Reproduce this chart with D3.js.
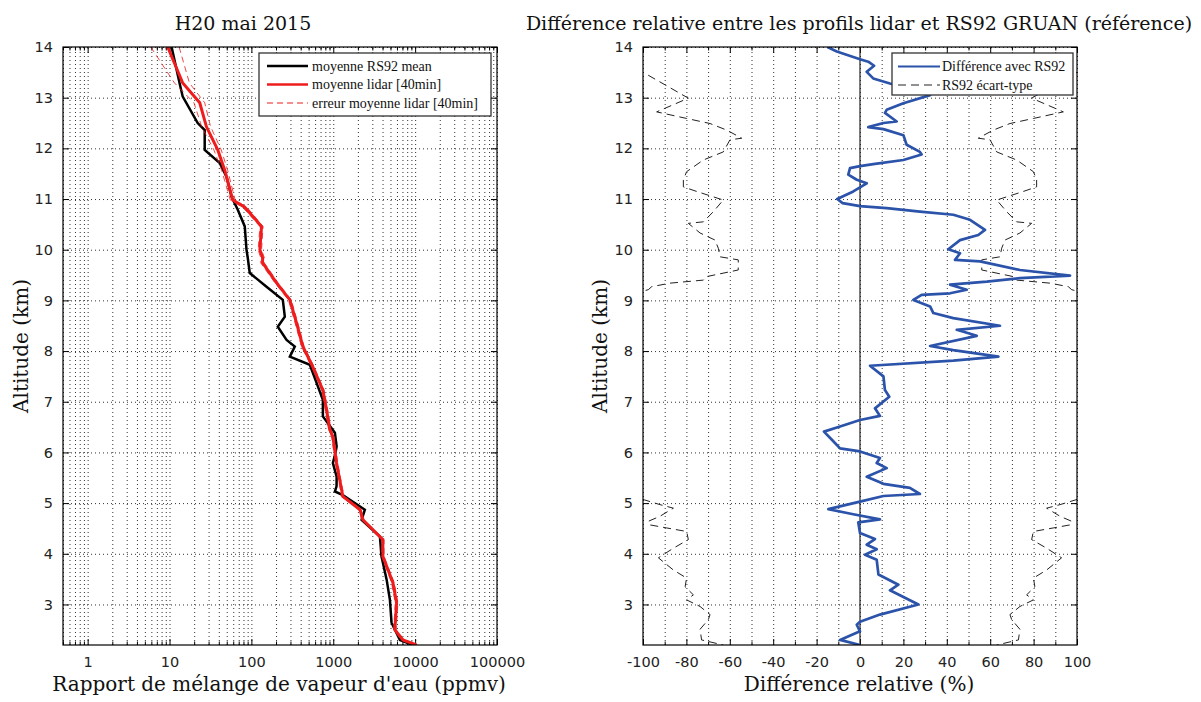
<!DOCTYPE html>
<html lang="fr">
<head>
<meta charset="utf-8">
<title>H20 mai 2015</title>
<script src="https://cdn.jsdelivr.net/npm/d3@7"></script>
<style>
  body { margin: 0; background: #fff; }
  .tick text { font-family: "DejaVu Sans", sans-serif; font-size: 14.5px; fill: #222; }
  .grid line { stroke: #333; stroke-width: 1; stroke-dasharray: 1,3; }
  .grid path, .ax path { display: none; }
  .ax line { stroke: #000; }
  .lbl { font-family: "DejaVu Serif", serif; fill: #111; }
  .leg { font-family: "Liberation Serif", serif; font-size: 14px; fill: #111; }
</style>
</head>
<body>
<script>
// ---- data ----
// altitude (km) / water vapour mixing ratio (ppmv)
var rsAlt  = [14.0, 13.28, 13.02, 12.5, 12.36, 11.97, 11.71, 11.44, 11.05, 10.79, 10.46, 10.0, 9.84, 9.54, 9.27, 9.01, 8.68, 8.48, 8.22, 8.09, 7.89, 7.73, 7.57, 7.04, 6.71, 6.39, 6.12, 5.95, 5.79, 5.52, 5.33, 5.23, 5.16, 4.87, 4.67, 4.34, 3.95, 3.49, 3.09, 2.64, 2.3, 2.2];
var rsMean = [10.6, 13.3, 14.5, 22.1, 26.9, 26.9, 41.1, 49.6, 57.1, 68.2, 83.0, 87.1, 90.3, 95.5, 153, 242, 256, 210, 269, 339, 295, 517, 563, 747, 747, 1047, 1100, 1050, 989, 1100, 1097, 1047, 1310, 2432, 2218, 3715, 3882, 4487, 4920, 5150, 6516, 9400];

var lidarAlt  = [14.0, 13.29, 12.9, 12.43, 11.97, 11.57, 10.98, 10.84, 10.46, 10.0, 9.84, 9.74, 9.35, 9.01, 8.56, 8.09, 7.69, 7.23, 6.84, 6.45, 6.31, 5.79, 5.13, 4.87, 4.67, 4.28, 3.95, 3.43, 3.03, 2.5, 2.3, 2.2];
var lidarMean = [9.5, 14.5, 23.4, 28.2, 38.8, 47.3, 59.3, 83, 133, 127, 137, 137, 202, 295, 355, 425, 563, 747, 828, 908, 989, 1097, 1310, 2122, 2300, 4036, 4036, 5354, 5940, 5650, 7090, 10400];
var lidarErr  = [3.6, 3.0, 3.5, 3.5, 4, 4, 4, 5, 6, 6, 7, 7, 9, 12, 14, 16, 20, 25, 28, 30, 33, 38, 45, 70, 75, 130, 130, 200, 220, 200, 250, 300];

// relative difference lidar - RS92 (%) and RS92 standard deviation (%)
var diffAlt = [14.0, 13.91, 13.76, 13.71, 13.63, 13.51, 13.38, 13.28, 13.15, 13.05, 12.89, 12.76, 12.7, 12.53, 12.5, 12.42, 12.38, 12.26, 12.07, 11.93, 11.88, 11.77, 11.69, 11.65, 11.61, 11.48, 11.38, 11.31, 11.15, 11.0, 10.92, 10.86, 10.82, 10.75, 10.69, 10.59, 10.39, 10.29, 10.19, 10.01, 9.93, 9.8, 9.77, 9.6, 9.49, 9.44, 9.37, 9.31, 9.21, 9.14, 9.11, 9.01, 8.88, 8.75, 8.65, 8.5, 8.42, 8.35, 8.3, 8.1, 8.02, 7.89, 7.81, 7.71, 7.5, 7.23, 7.1, 6.87, 6.72, 6.64, 6.51, 6.41, 6.22, 6.08, 6.02, 5.89, 5.79, 5.69, 5.52, 5.38, 5.3, 5.18, 5.14, 5.03, 4.88, 4.78, 4.68, 4.62, 4.41, 4.29, 4.18, 4.09, 3.98, 3.88, 3.59, 3.39, 3.28, 3.0, 2.8, 2.66, 2.6, 2.47, 2.3, 2.2];
var diffVal = [-15, -10.7, 0, 3.8, 6.5, 3.1, 6.1, 13.8, 25, 32.3, 20, 12.3, 11.5, 16.9, 10.8, 3.8, 10.8, 20, 21.5, 27.6, 28.4, 20, 6.1, 0, -4.6, -5.4, -1.5, 3.1, -3.1, -10.5, -8.0, 0, 12.3, 27.6, 43.0, 50.7, 57.6, 54.5, 46.1, 40.7, 46.1, 43.8, 55.3, 73.7, 96.8, 73.7, 58.4, 41.5, 49.2, 41.5, 28.4, 24.6, 32.3, 33.8, 43.0, 64.5, 44.6, 50, 53.8, 32.3, 43, 63.8, 43, 4.6, 10.8, 11.5, 13.5, 6.9, 9.2, 0, -9.2, -16.6, -12.3, -9.2, 0, 9.2, 7.7, 12.3, 3.1, 10.8, 23, 27.6, 10.8, 0, -14.6, -3.1, 9.2, -0.8, 0, 6.9, 3.1, 7.7, 2.3, 7.7, 8.5, 17.7, 13.8, 26.9, 9.2, 0, -1.5, 0, -9.2, 0];

var stdAlt = [13.7, 13.48, 12.99, 12.72, 12.59, 12.49, 12.36, 12.2, 12.17, 11.93, 11.77, 11.54, 11.38, 11.24, 11.15, 10.98, 10.75, 10.55, 10.52, 10.33, 10.19, 10.03, 9.86, 9.8, 9.6, 9.47, 9.4, 9.34, 9.27, 9.21, 9.1, null, 5.15, 5.06, 4.97, 4.9, 4.74, 4.64, 4.57, 4.51, 4.44, 4.28, 4.11, 3.92, 3.68, 3.52, 3.35, 3.19, 3.09, 2.96, 2.8, 2.7, 2.51, 2.3, 2.2];
var stdVal = [108, 99.1, 79.1, 93.7, 79.9, 69.1, 61.4, 54.5, 59.9, 63.0, 72.2, 79.9, 81.4, 81.4, 75.3, 63.0, 67.6, 72.2, 79.1, 73.7, 66.8, 65.3, 64.5, 56.1, 56.1, 70.6, 72.2, 87.6, 96.0, 97.6, 108, null, 106, 99.1, 92.2, 86.0, 92.2, 97.6, 96.8, 89.1, 79.9, 79.1, 86.0, 92.9, 86.0, 79.9, 80.6, 76.8, 79.9, 73.7, 69.1, 69.9, 73.7, 73.0, 63.0];

var logMajor = [1, 10, 100, 1000, 10000, 100000];
var altTicks = [3, 4, 5, 6, 7, 8, 9, 10, 11, 12, 13, 14];
var pctTicks = [-100, -80, -60, -40, -20, 0, 20, 40, 60, 80, 100];
var pctMinor = [-90, -70, -50, -30, -10, 10, 30, 50, 70, 90];

// ---- layout ----
var w = 1201, h = 702;
var yTop = 47, yBot = 645;
var red = "#ee1c1c", blue = "#2b53aa";
var fmt = function(d) { return String(d); };

var svg = d3.select("body").append("svg").attr("width", w).attr("height", h);

var y = d3.scaleLinear().domain([2.2, 14]).range([yBot, yTop]);
var xL = d3.scaleLog().domain([0.5, 100000]).range([63, 497]);
var xR = d3.scaleLinear().domain([-100, 100]).range([643, 1077]);

// minor log ticks
var logMinor = [];
[0.1, 1, 10, 100, 1000, 10000].forEach(function(d) {
  for (var k = 2; k <= 9; k++) {
    var v = d * k;
    if (v >= 0.5 && v < 100000) logMinor.push(v);
  }
});

function frame(x, xMajor, xMinor) {
  var left = x.range()[0], right = x.range()[1];
  var g = svg.append("g");
  // grid
  g.append("g").attr("class", "grid").attr("transform", "translate(0," + yBot + ")")
    .call(d3.axisBottom(x).tickValues(xMajor.concat(xMinor)).tickSize(-(yBot - yTop)).tickFormat(""));
  g.append("g").attr("class", "grid").attr("transform", "translate(" + left + ",0)")
    .call(d3.axisLeft(y).tickValues(altTicks).tickSize(-(right - left)).tickFormat(""));
  // ticks
  g.append("g").attr("class", "ax").attr("transform", "translate(0," + yBot + ")")
    .call(d3.axisBottom(x).tickValues(xMajor).tickSize(-6).tickPadding(12).tickFormat(fmt));
  g.append("g").attr("class", "ax").attr("transform", "translate(0," + yBot + ")")
    .call(d3.axisBottom(x).tickValues(xMinor).tickSize(-3.5).tickFormat(""));
  g.append("g").attr("class", "ax").attr("transform", "translate(0," + yTop + ")")
    .call(d3.axisTop(x).tickValues(xMajor).tickSize(-6).tickFormat(""));
  g.append("g").attr("class", "ax").attr("transform", "translate(0," + yTop + ")")
    .call(d3.axisTop(x).tickValues(xMinor).tickSize(-3.5).tickFormat(""));
  g.append("g").attr("class", "ax").attr("transform", "translate(" + left + ",0)")
    .call(d3.axisLeft(y).tickValues(altTicks).tickSize(-6).tickPadding(10).tickFormat(fmt));
  g.append("g").attr("class", "ax").attr("transform", "translate(" + right + ",0)")
    .call(d3.axisRight(y).tickValues(altTicks).tickSize(-6).tickFormat(""));
  return g;
}

function box(x) {
  svg.append("rect").attr("x", x.range()[0]).attr("y", yTop)
    .attr("width", x.range()[1] - x.range()[0]).attr("height", yBot - yTop)
    .attr("fill", "none").attr("stroke", "#000").attr("stroke-width", 1.2);
}

// ---------- left panel ----------
frame(xL, logMajor, logMinor);

svg.append("clipPath").attr("id", "clipL").append("rect")
  .attr("x", 63).attr("y", yTop).attr("width", 434).attr("height", yBot - yTop);
var gL = svg.append("g").attr("clip-path", "url(#clipL)");

var lineL = d3.line().x(function(d) { return xL(d[1]); }).y(function(d) { return y(d[0]); });

var rsData = rsAlt.map(function(a, i) { return [a, rsMean[i]]; });
var lidData = lidarAlt.map(function(a, i) { return [a, lidarMean[i]]; });
var lidLo = lidarAlt.map(function(a, i) { return [a, lidarMean[i] - lidarErr[i]]; });
var lidHi = lidarAlt.map(function(a, i) { return [a, lidarMean[i] + lidarErr[i]]; });

gL.append("path").datum(rsData).attr("d", lineL)
  .attr("fill", "none").attr("stroke", "#000").attr("stroke-width", 2.5);
[lidLo, lidHi].forEach(function(dd) {
  gL.append("path").datum(dd).attr("d", lineL)
    .attr("fill", "none").attr("stroke", red).attr("stroke-opacity", 0.8)
    .attr("stroke-width", 1).attr("stroke-dasharray", "6,4");
});
gL.append("path").datum(lidData).attr("d", lineL)
  .attr("fill", "none").attr("stroke", red).attr("stroke-width", 3);

box(xL);

// legend left
var legL = svg.append("g").attr("transform", "translate(259,53)");
legL.append("rect").attr("width", 232).attr("height", 63)
  .attr("fill", "#fff").attr("stroke", "#333").attr("stroke-width", 1.3);
var legItems = [
  { t: "moyenne RS92 mean", c: "#000", sw: 2.5, dash: null },
  { t: "moyenne lidar [40min]", c: red, sw: 2.5, dash: null },
  { t: "erreur moyenne lidar [40min]", c: red, sw: 1, dash: "6,4" }
];
legItems.forEach(function(d, i) {
  var yy = 13 + i * 18.5;
  legL.append("line").attr("x1", 8).attr("x2", 49).attr("y1", yy).attr("y2", yy)
    .attr("stroke", d.c).attr("stroke-width", d.sw).attr("stroke-dasharray", d.dash);
  legL.append("text").attr("class", "leg").attr("x", 53).attr("y", yy + 4.5).text(d.t);
});

// ---------- right panel ----------
frame(xR, pctTicks, pctMinor);

svg.append("clipPath").attr("id", "clipR").append("rect")
  .attr("x", 643).attr("y", yTop).attr("width", 434).attr("height", yBot - yTop);
var gR = svg.append("g").attr("clip-path", "url(#clipR)");

gR.append("line").attr("x1", xR(0)).attr("x2", xR(0)).attr("y1", yTop).attr("y2", yBot)
  .attr("stroke", "#222").attr("stroke-width", 1.2);

var stdData = stdAlt.map(function(a, i) { return [a, stdVal[i]]; });
var stdLine = function(sign) {
  return d3.line().defined(function(d) { return d[0] !== null; })
    .x(function(d) { return xR(sign * d[1]); }).y(function(d) { return y(d[0]); });
};
[-1, 1].forEach(function(s) {
  gR.append("path").datum(stdData).attr("d", stdLine(s))
    .attr("fill", "none").attr("stroke", "#222").attr("stroke-width", 1)
    .attr("stroke-dasharray", "8,5");
});

var diffData = diffAlt.map(function(a, i) { return [a, diffVal[i]]; });
gR.append("path").datum(diffData)
  .attr("d", d3.line().x(function(d) { return xR(d[1]); }).y(function(d) { return y(d[0]); }))
  .attr("fill", "none").attr("stroke", blue).attr("stroke-width", 2.7).attr("stroke-linejoin", "round");

box(xR);

var legR = svg.append("g").attr("transform", "translate(892,53)");
legR.append("rect").attr("width", 181).attr("height", 42)
  .attr("fill", "#fff").attr("stroke", "#333").attr("stroke-width", 1.3);
[{ t: "Différence avec RS92", c: blue, sw: 2, dash: null },
 { t: "RS92 écart-type", c: "#222", sw: 1, dash: "8,5" }].forEach(function(d, i) {
  var yy = 13.5 + i * 18.5;
  legR.append("line").attr("x1", 6).attr("x2", 48).attr("y1", yy).attr("y2", yy)
    .attr("stroke", d.c).attr("stroke-width", d.sw).attr("stroke-dasharray", d.dash);
  legR.append("text").attr("class", "leg").attr("x", 50).attr("y", yy + 4.5).text(d.t);
});

// ---------- titles and labels ----------
svg.append("text").attr("class", "lbl").attr("x", 243).attr("y", 30)
  .attr("text-anchor", "middle").attr("font-size", 19).text("H20 mai 2015");
svg.append("text").attr("class", "lbl").attr("x", 859).attr("y", 30)
  .attr("text-anchor", "middle").attr("font-size", 19)
  .text("Différence relative entre les profils lidar et RS92 GRUAN (référence)");
svg.append("text").attr("class", "lbl").attr("x", 279).attr("y", 691)
  .attr("text-anchor", "middle").attr("font-size", 20)
  .text("Rapport de mélange de vapeur d'eau (ppmv)");
svg.append("text").attr("class", "lbl").attr("x", 859).attr("y", 691)
  .attr("text-anchor", "middle").attr("font-size", 20).text("Différence relative (%)");
[28, 607].forEach(function(xx) {
  svg.append("text").attr("class", "lbl")
    .attr("transform", "translate(" + xx + ",346) rotate(-90)")
    .attr("text-anchor", "middle").attr("font-size", 20).text("Altitude (km)");
});
</script>
</body>
</html>
